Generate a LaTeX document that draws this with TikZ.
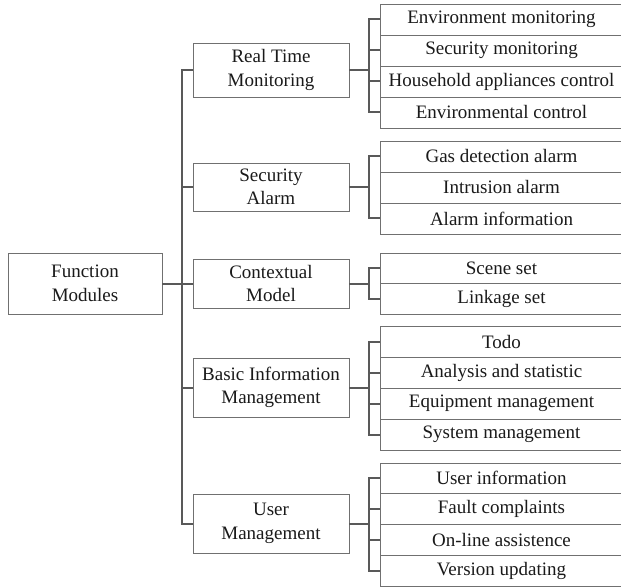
\documentclass[tikz,border=0pt]{standalone}
\usepackage{fontspec}
\setmainfont{Liberation Serif}
\newfontfamily\tnr{Liberation Serif}
\usetikzlibrary{shadows}
\definecolor{boxgray}{HTML}{707070}
\definecolor{linegray}{HTML}{595959}
\definecolor{txt}{HTML}{1A1A1A}
\begin{document}
\begin{tikzpicture}[x=1pt,y=-1pt,
  box/.style={draw=boxgray, line width=0.9pt, fill=white, align=center, inner sep=0pt,
    text=txt, font=\tnr\fontsize{19}{23.5}\selectfont,
    drop shadow={shadow xshift=1.3pt, shadow yshift=-1.3pt, fill=black!22, opacity=1}},
  midbox/.style={box, minimum width=156pt},
  leaf/.style={box, minimum width=250pt, minimum height=31pt},
  conn/.style={draw=linegray, line width=2pt, line join=miter}]
\path[use as bounding box, clip] (0,0) rectangle (621,588);

% root
\node[box, minimum width=154pt, minimum height=61pt] (fm) at (85,283.5) {Function\\Modules};

% second level
\node[midbox, minimum height=54pt] (rtm) at (271,70) {Real Time\\Monitoring};
\node[midbox, minimum height=48pt] (sa) at (271,187) {Security\\Alarm};
\node[midbox, minimum height=49pt] (cm) at (271,283.5) {Contextual\\Model};
\node[midbox, minimum height=59pt] (bim) at (271,387.5) {Basic Information\\Management};
\node[midbox, minimum height=59pt] (um) at (271,523.5) {User\\Management};

% leaves
\node[leaf] (a1) at (505.5,19.5) {\hspace*{-8pt}Environment monitoring};
\node[leaf] (a2) at (505.5,50.5) {\hspace*{-8pt}Security monitoring};
\node[leaf] (a3) at (505.5,81.5) {\hspace*{-8pt}Household appliances control};
\node[leaf] (a4) at (505.5,112.5) {\hspace*{-8pt}Environmental control};

\node[leaf] (b1) at (505.5,156.5) {\hspace*{-8pt}Gas detection alarm};
\node[leaf] (b2) at (505.5,187.5) {\hspace*{-8pt}Intrusion alarm};
\node[leaf] (b3) at (505.5,218.5) {\hspace*{-8pt}Alarm information};

\node[leaf, minimum height=30.5pt] (c1) at (505.5,268.25) {\hspace*{-8pt}Scene set};
\node[leaf, minimum height=30.5pt] (c2) at (505.5,298.75) {\hspace*{-8pt}Linkage set};

\node[leaf] (d1) at (505.5,341.5) {\hspace*{-8pt}Todo};
\node[leaf] (d2) at (505.5,372.5) {\hspace*{-8pt}Analysis and statistic};
\node[leaf] (d3) at (505.5,403.5) {\hspace*{-8pt}Equipment management};
\node[leaf] (d4) at (505.5,434.5) {\hspace*{-8pt}System management};

\node[leaf, minimum height=30.75pt] (e1) at (505.5,478.4) {\hspace*{-8pt}User information};
\node[leaf, minimum height=30.75pt] (e2) at (505.5,509.1) {\hspace*{-8pt}Fault complaints};
\node[leaf, minimum height=30.75pt] (e3) at (505.5,539.9) {\hspace*{-8pt}On-line assistence};
\node[leaf, minimum height=30.75pt] (e4) at (505.5,570.6) {\hspace*{-8pt}Version updating};

% trunk
\coordinate (t) at (182,283.5);
\draw[conn] (rtm.west) -| (t) |- (um.west);
\draw[conn] (fm.east) -- (cm.west);
\draw[conn] (sa.west) -- (t |- sa.west);
\draw[conn] (bim.west) -- (t |- bim.west);

% brackets
\coordinate (ka) at (369,70);
\draw[conn] (rtm.east) -- (ka);
\draw[conn] (a1.west) -| (ka) |- (a4.west);
\draw[conn] (a2.west) -- (ka |- a2.west);
\draw[conn] (a3.west) -- (ka |- a3.west);

\coordinate (kb) at (369,187);
\draw[conn] (sa.east) -- (kb);
\draw[conn] (b1.west) -| (kb) |- (b3.west);

\coordinate (kc) at (369,283.5);
\draw[conn] (cm.east) -- (kc);
\draw[conn] (c1.west) -| (kc) |- (c2.west);

\coordinate (kd) at (369,387.5);
\draw[conn] (bim.east) -- (kd);
\draw[conn] (d1.west) -| (kd) |- (d4.west);
\draw[conn] (d2.west) -- (kd |- d2.west);
\draw[conn] (d3.west) -- (kd |- d3.west);

\coordinate (ke) at (369,523.5);
\draw[conn] (um.east) -- (ke);
\draw[conn] (e1.west) -| (ke) |- (e4.west);
\draw[conn] (e2.west) -- (ke |- e2.west);
\draw[conn] (e3.west) -- (ke |- e3.west);
\end{tikzpicture}
\end{document}
